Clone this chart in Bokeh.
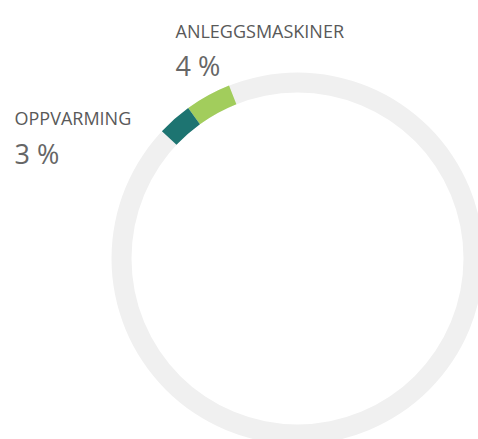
from bokeh.plotting import figure
from bokeh.models import ColumnDataSource, Range1d
from bokeh.core.properties import value
from bokeh.embed import file_html
from bokeh.resources import INLINE
import math

# Data
categories = ["ANLEGGSMASKINER", "OPPVARMING"]
shares = [4, 3]          # percent
share_labels = ["4 %", "3 %"]
colors = ["#a2cd5c", "#1d7471"]
offset_pct = 6.0          # start of first highlighted segment, counter-clockwise from 12 o'clock

W, H = 478, 439
p = figure(width=W, height=H, output_backend="svg", toolbar_location=None,
           x_range=Range1d(0, W), y_range=Range1d(0, H), min_border=0)
p.axis.visible = False
p.grid.visible = False
p.outline_line_color = None
p.background_fill_color = "white"
p.border_fill_color = "white"

cx, cy = 297, H - 258
r_in, r_out = 166, 186

# background ring
p.annular_wedge(x=cx, y=cy, inner_radius=r_in, outer_radius=r_out,
                start_angle=0, end_angle=2 * math.pi,
                fill_color="#f0f0f0", line_color=None)

starts, ends = [], []
acc = offset_pct
for s in shares:
    starts.append(math.pi / 2 + acc / 100 * 2 * math.pi)
    acc += s
    ends.append(math.pi / 2 + acc / 100 * 2 * math.pi)

src = ColumnDataSource(dict(start=starts, end=ends, color=colors))
p.annular_wedge(x=cx, y=cy, inner_radius=r_in, outer_radius=r_out,
                start_angle="start", end_angle="end", fill_color="color",
                line_color=None, source=src)

# labels
label_x = [175, 14]
name_y = [H - 30, H - 117]
pct_y = [H - 65, H - 153]
p.text(x=label_x, y=name_y, text=categories, text_font=value("Open Sans"),
       text_font_size="18px", text_color="#595959", text_baseline="alphabetic")
p.text(x=label_x, y=pct_y, text=share_labels, text_font=value("Open Sans"),
       text_font_size="27px", text_color="#666666", text_baseline="alphabetic")

open("out.html", "w").write(file_html(p, INLINE))
